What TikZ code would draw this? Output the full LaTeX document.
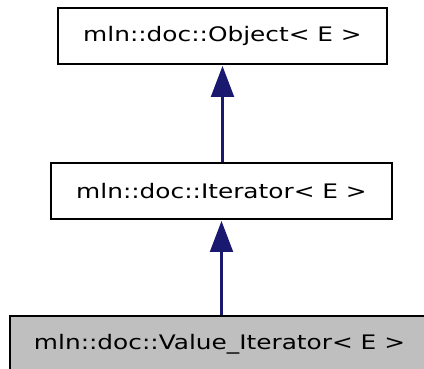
\documentclass[tikz,border=0pt]{standalone}
\usepackage{fontspec}
\setmainfont{DejaVu Sans}
\newfontfamily\widefont[FakeStretch=1.24]{DejaVu Sans}
\usetikzlibrary{arrows.meta}
\definecolor{edgeblue}{HTML}{191970}
\definecolor{nodegray}{HTML}{BFBFBF}
\begin{document}
\begin{tikzpicture}[x=1pt, y=-1pt,
  classbox/.style={draw=black, line width=2pt, inner sep=0pt,
    minimum height=56pt, font=\widefont\fontsize{20}{24}\selectfont},
  inherit/.style={draw=edgeblue, line width=2.2pt,
    -{Triangle[width=23pt,length=31pt,fill=edgeblue]}, shorten >=1pt}]
  \useasboundingbox (0,0) rectangle (424,369);
  \clip (0,0) rectangle (424,369);
  % Classes
  \node[classbox, minimum width=329pt] (obj)  at (222.5,36)  {mln::doc::Object< E >};
  \node[classbox, minimum width=341pt] (iter) at (221.5,191) {mln::doc::Iterator< E >};
  \node[classbox, minimum width=419pt, fill=nodegray] (val) at (219.5,344) {mln::doc::Value\_Iterator< E >};
  % Inheritance
  \draw[inherit] (obj.south |- iter.north) -- (obj.south);
  \draw[inherit] (iter.south |- val.north) -- (iter.south);
\end{tikzpicture}
\end{document}
